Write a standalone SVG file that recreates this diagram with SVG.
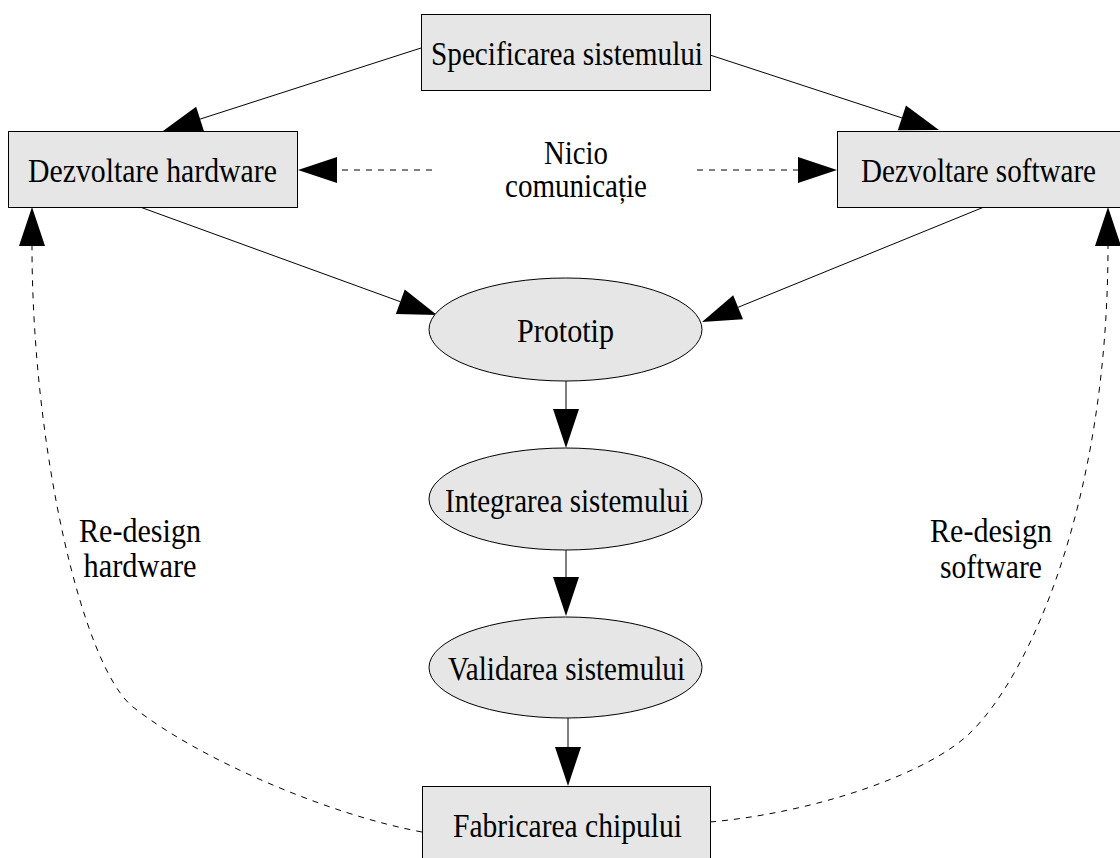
<svg xmlns="http://www.w3.org/2000/svg" width="1120" height="858" viewBox="0 0 1120 858">
  <style>
    .box { fill: #e6e6e6; stroke: #000; stroke-width: 1; }
    .lbl { font-family: "Liberation Serif", "Times New Roman", serif; font-size: 34px; fill: #000; text-anchor: middle; }
    .edge { fill: none; stroke: #000; stroke-width: 1; }
    .dash { stroke-dasharray: 6 6; }
  </style>
  <defs>
    <marker id="head" markerUnits="userSpaceOnUse" markerWidth="40" markerHeight="28" refX="0" refY="13" orient="auto" overflow="visible">
      <path d="M0,0 L39,13 L0,26 Z" fill="#000"/>
    </marker>
  </defs>

  <rect width="1120" height="858" fill="#fff"/>

  <!-- connectors -->
  <g id="connectors" class="edges">
    <path class="edge" d="M421,48 L200.1,119.1" marker-end="url(#head)"/>
    <path class="edge" d="M710,55 L901.9,117.9" marker-end="url(#head)"/>
    <path class="edge" d="M140,207 L400.3,301.7" marker-end="url(#head)"/>
    <path class="edge" d="M984,207 L738.1,307.3" marker-end="url(#head)"/>
    <path class="edge" d="M566,381 L566,409" marker-end="url(#head)"/>
    <path class="edge" d="M566,550 L566,577" marker-end="url(#head)"/>
    <path class="edge" d="M568,718 L568,747" marker-end="url(#head)"/>
    <path class="edge dash" d="M432,170 L337,170" marker-end="url(#head)"/>
    <path class="edge dash" d="M697,170 L798,170" marker-end="url(#head)"/>
    <path class="edge dash" d="M422,832 C330,815 200,760 133,707 C83,667 32,450 32,246" marker-end="url(#head)"/>
    <path class="edge dash" d="M710,822 C820,812 930,772 970,733 C1030,675 1108,500 1108,246" marker-end="url(#head)"/>
  </g>

  <g id="spec">
    <rect class="box" x="421.5" y="14.5" width="289" height="76"/>
    <text class="lbl" x="567" y="65" textLength="272" lengthAdjust="spacingAndGlyphs">Specificarea sistemului</text>
  </g>
  <g id="hardware">
    <rect class="box" x="8.5" y="131.5" width="289" height="76"/>
    <text class="lbl" x="152.5" y="182" textLength="249" lengthAdjust="spacingAndGlyphs">Dezvoltare hardware</text>
  </g>
  <g id="software">
    <rect class="box" x="837.5" y="131.5" width="289" height="76"/>
    <text class="lbl" x="978.5" y="182" textLength="235" lengthAdjust="spacingAndGlyphs">Dezvoltare software</text>
  </g>
  <g id="nicio">
    <text class="lbl" x="576" y="164" textLength="64" lengthAdjust="spacingAndGlyphs">Nicio</text>
    <text class="lbl" x="576" y="197" textLength="142" lengthAdjust="spacingAndGlyphs">comunicație</text>
  </g>
  <g id="prototip">
    <ellipse class="box" cx="565.5" cy="329.5" rx="136.5" ry="51.5"/>
    <text class="lbl" x="565.5" y="342" textLength="97" lengthAdjust="spacingAndGlyphs">Prototip</text>
  </g>
  <g id="integrare">
    <ellipse class="box" cx="565.5" cy="499" rx="136.5" ry="51"/>
    <text class="lbl" x="567" y="512" textLength="244" lengthAdjust="spacingAndGlyphs">Integrarea sistemului</text>
  </g>
  <g id="validare">
    <ellipse class="box" cx="565.5" cy="667.5" rx="136.5" ry="50.5"/>
    <text class="lbl" x="566.5" y="680" textLength="237" lengthAdjust="spacingAndGlyphs">Validarea sistemului</text>
  </g>
  <g id="fabricare">
    <rect class="box" x="422.5" y="786.5" width="288" height="76"/>
    <text class="lbl" x="567.5" y="837" textLength="229" lengthAdjust="spacingAndGlyphs">Fabricarea chipului</text>
  </g>
  <g id="redesign-hw">
    <text class="lbl" x="140" y="542" textLength="122" lengthAdjust="spacingAndGlyphs">Re-design</text>
    <text class="lbl" x="140" y="577" textLength="113" lengthAdjust="spacingAndGlyphs">hardware</text>
  </g>
  <g id="redesign-sw">
    <text class="lbl" x="991" y="542" textLength="122" lengthAdjust="spacingAndGlyphs">Re-design</text>
    <text class="lbl" x="991" y="578" textLength="102" lengthAdjust="spacingAndGlyphs">software</text>
  </g>
</svg>
